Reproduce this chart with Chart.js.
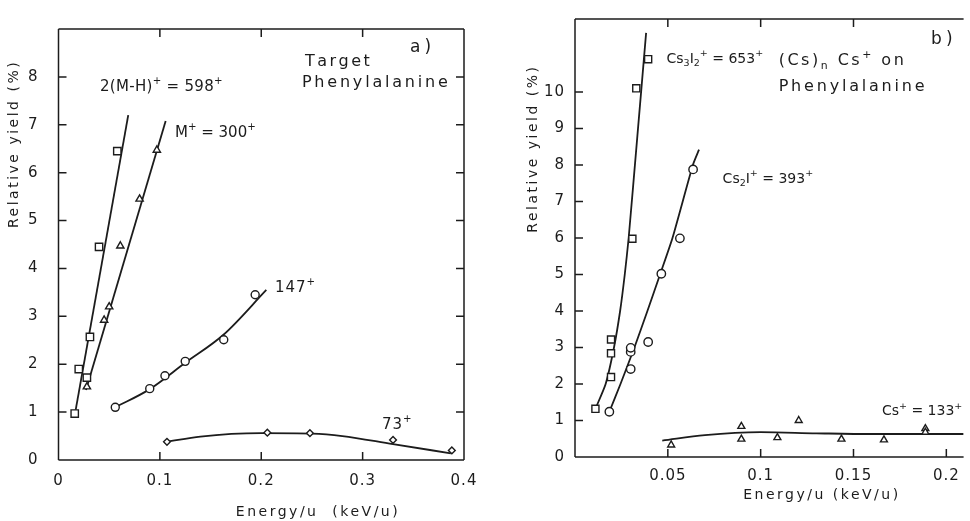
<!DOCTYPE html>
<html>
<head>
<meta charset="utf-8">
<title>Relative yield vs Energy/u - Phenylalanine</title>
<script src="https://cdn.jsdelivr.net/npm/chart.js@4.4.1/dist/chart.umd.min.js"></script>
<style>
  html, body { margin: 0; padding: 0; background: #fff; overflow: hidden; }
  #wrapA { position: absolute; left: 0; top: 0; width: 490px; height: 521px; }
  #wrapB { position: absolute; left: 490px; top: 0; width: 480px; height: 521px; }
</style>
</head>
<body>
<div id="wrapA"><canvas id="chartA"></canvas></div>
<div id="wrapB"><canvas id="chartB"></canvas></div>
<script>
// ---- Panel a) : target Phenylalanine ----
const energy598 = [0.016, 0.020, 0.028, 0.031, 0.040, 0.058];
const yield598 = [0.97, 1.90, 1.72, 2.57, 4.45, 6.45];
const energy300 = [0.028, 0.045, 0.050, 0.061, 0.080, 0.097];
const yield300 = [1.53, 2.92, 3.20, 4.47, 5.45, 6.47];
const energy147 = [0.056, 0.090, 0.105, 0.125, 0.163, 0.194];
const yield147 = [1.10, 1.49, 1.76, 2.06, 2.51, 3.45];
const energy73 = [0.107, 0.206, 0.248, 0.330, 0.388];
const yield73 = [0.38, 0.57, 0.56, 0.42, 0.20];

// hand drawn curves, read along the lines of the figure
const fitEnergy598 = [0.0163, 0.0688];
const fitYield598 = [0.97, 7.2];
const fitEnergy300 = [0.0271, 0.1057];
const fitYield300 = [1.46, 7.08];
const fitEnergy147 = [0.056, 0.090, 0.125, 0.163, 0.205];
const fitYield147 = [1.10, 1.48, 2.03, 2.62, 3.55];
const fitEnergy73 = [0.107, 0.140, 0.200, 0.250, 0.280, 0.330, 0.387];
const fitYield73 = [0.38, 0.49, 0.56, 0.55, 0.50, 0.33, 0.14];

const xTicksA = [0, 0.1, 0.2, 0.3, 0.4];
const yTicksA = [0, 1, 2, 3, 4, 5, 6, 7, 8];

// ---- Panel b) : (Cs)n Cs+ on Phenylalanine ----
const energy653 = [0.011, 0.0194, 0.0194, 0.0194, 0.0309, 0.033, 0.0394];
const yield653 = [1.32, 2.19, 2.84, 3.22, 5.98, 10.1, 10.9];
const energy393 = [0.0185, 0.030, 0.030, 0.030, 0.0394, 0.0465, 0.0565, 0.0636];
const yield393 = [1.24, 2.41, 2.88, 2.99, 3.15, 5.02, 5.99, 7.88];
const energy133 = [0.0518, 0.0896, 0.0896, 0.109, 0.1205, 0.1435, 0.1664, 0.1887, 0.1887];
const yield133 = [0.33, 0.84, 0.49, 0.53, 1.0, 0.49, 0.47, 0.78, 0.68];

const fitEnergy653 = [0.011, 0.0165, 0.021, 0.0243, 0.0268, 0.0289, 0.0336, 0.0383];
const fitYield653 = [1.32, 2.0, 3.0, 4.0, 5.0, 6.0, 8.8, 11.62];
const fitEnergy393 = [0.0185, 0.0245, 0.032, 0.039, 0.0458, 0.0525, 0.0635, 0.0668];
const fitYield393 = [1.24, 2.0, 3.0, 4.0, 5.0, 6.0, 8.0, 8.42];
const fitEnergy133 = [0.047, 0.070, 0.100, 0.130, 0.160, 0.2093];
const fitYield133 = [0.45, 0.60, 0.68, 0.65, 0.63, 0.63];

const xTicksB = [0.05, 0.1, 0.15, 0.2];
const yTicksB = [0, 1, 2, 3, 4, 5, 6, 7, 8, 9, 10];

const FONT = '"DejaVu Sans", sans-serif';
const INK = "#1c1c1c";

document.addEventListener("DOMContentLoaded", function () {
  buildPanelA();
  buildPanelB();
});

// Pair up an x array and a y array into chart points
function toPoints(xs, ys) {
  return xs.map((x, i) => ({ x: x, y: ys[i] }));
}

// Open markers for the measured points
function markerSet(xs, ys, style, radius) {
  return {
    type: "scatter",
    data: toPoints(xs, ys),
    pointStyle: style,
    pointRadius: radius,
    pointBorderWidth: 1.4,
    pointBorderColor: INK,
    pointBackgroundColor: "#fff",
    showLine: false,
    order: 1,
  };
}

// Line drawn through the points: "straight", "smooth" (bezier) or "monotone"
function curveSet(xs, ys, kind) {
  const set = {
    type: "scatter",
    data: toPoints(xs, ys),
    showLine: true,
    borderColor: INK,
    borderWidth: 1.8,
    pointRadius: 0,
    fill: false,
    order: 2,
  };
  if (kind === "straight") {
    set.tension = 0;
  } else if (kind === "smooth") {
    set.tension = 0.2;
    set.cubicInterpolationMode = "default";
  } else {
    set.cubicInterpolationMode = "monotone";
  }
  return set;
}

// Format tick values like 0.05, 0.1 or 0
function formatTick(value) {
  return String(+Number(value).toFixed(2));
}

// Draw a string where ^c is superscript and _c is subscript
function drawRichText(ctx, str, x, y, size) {
  let cx = x;
  for (let i = 0; i < str.length; i++) {
    let ch = str[i];
    let mode = 0;
    if ((ch === "^" || ch === "_") && i + 1 < str.length) {
      mode = ch === "^" ? 1 : -1;
      ch = str[++i];
    }
    const fs = mode ? size * 0.68 : size;
    ctx.font = `${fs}px ${FONT}`;
    const dy = mode === 1 ? -size * 0.4 : mode === -1 ? size * 0.3 : 0;
    ctx.fillText(ch, cx, y + dy);
    cx += ctx.measureText(ch).width;
  }
}

// Frame, inward tick marks, labels and axis titles
function makeFramePlugin(cfg) {
  return {
    id: "frame",
    beforeDraw(chart) {
      chart.ctx.letterSpacing = "1px";
    },
    afterDraw(chart) {
      const ctx = chart.ctx;
      const area = chart.chartArea;
      const xs = chart.scales.x;
      const ys = chart.scales.y;
      const tick = 8;

      ctx.save();
      ctx.strokeStyle = INK;
      ctx.lineWidth = 1.5;
      ctx.beginPath();
      // frame sides
      if (cfg.sides.includes("top")) { ctx.moveTo(area.left, area.top); ctx.lineTo(area.right, area.top); }
      if (cfg.sides.includes("bottom")) { ctx.moveTo(area.left, area.bottom); ctx.lineTo(area.right, area.bottom); }
      if (cfg.sides.includes("left")) { ctx.moveTo(area.left, area.top); ctx.lineTo(area.left, area.bottom); }
      if (cfg.sides.includes("right")) { ctx.moveTo(area.right, area.top); ctx.lineTo(area.right, area.bottom); }
      // tick marks pointing inside
      cfg.bottomMarks.forEach((v) => {
        const px = xs.getPixelForValue(v);
        ctx.moveTo(px, area.bottom); ctx.lineTo(px, area.bottom - tick);
      });
      cfg.topMarks.forEach((v) => {
        const px = xs.getPixelForValue(v);
        ctx.moveTo(px, area.top); ctx.lineTo(px, area.top + tick);
      });
      cfg.leftMarks.forEach((v) => {
        const py = ys.getPixelForValue(v);
        ctx.moveTo(area.left, py); ctx.lineTo(area.left + tick, py);
      });
      cfg.rightMarks.forEach((v) => {
        const py = ys.getPixelForValue(v);
        ctx.moveTo(area.right, py); ctx.lineTo(area.right - tick, py);
      });
      ctx.stroke();

      // text labels
      ctx.fillStyle = INK;
      ctx.textBaseline = "middle";
      ctx.textAlign = "left";
      cfg.labels.forEach((lab) => {
        ctx.letterSpacing = lab.spacing + "px";
        drawRichText(ctx, lab.text, xs.getPixelForValue(lab.x), ys.getPixelForValue(lab.y), lab.size);
      });

      // axis titles
      ctx.font = `14px ${FONT}`;
      ctx.letterSpacing = "2.5px";
      ctx.textAlign = "center";
      ctx.fillText(cfg.xTitle.text, xs.getPixelForValue(cfg.xTitle.at), area.bottom + cfg.xTitle.offset);
      ctx.translate(area.left - cfg.yTitle.offset, ys.getPixelForValue(cfg.yTitle.at));
      ctx.rotate(-Math.PI / 2);
      ctx.fillText(cfg.yTitle.text, 0, 0);
      ctx.restore();
    },
  };
}

// Shared options for one panel
function panelOptions(p) {
  return {
    responsive: true,
    maintainAspectRatio: false,
    animation: false,
    layout: { padding: p.padding },
    plugins: { legend: { display: false }, tooltip: { enabled: false } },
    scales: {
      x: {
        type: "linear",
        min: p.xMin,
        max: p.xMax,
        grid: { display: false, drawTicks: false },
        border: { display: false },
        afterBuildTicks: (s) => { s.ticks = p.xTicks.map((v) => ({ value: v })); },
        afterFit: (s) => { s.height = p.xHeight; },
        ticks: {
          padding: p.xPad,
          color: INK,
          autoSkip: false,
          maxRotation: 0,
          font: { family: FONT, size: 15 },
          callback: (v) => formatTick(v),
        },
      },
      y: {
        type: "linear",
        min: 0,
        max: p.yMax,
        grid: { display: false, drawTicks: false },
        border: { display: false },
        afterBuildTicks: (s) => { s.ticks = p.yTicks.map((v) => ({ value: v })); },
        afterFit: (s) => { s.width = p.yWidth; },
        ticks: {
          padding: p.yPad,
          color: INK,
          font: { family: FONT, size: 15 },
          callback: (v) => formatTick(v),
        },
      },
    },
  };
}

function buildPanelA() {
  const ctx = document.getElementById("chartA");
  new Chart(ctx, {
    type: "scatter",
    data: {
      datasets: [
        curveSet(fitEnergy598, fitYield598, "straight"),
        curveSet(fitEnergy300, fitYield300, "straight"),
        curveSet(fitEnergy147, fitYield147, "monotone"),
        curveSet(fitEnergy73, fitYield73, "monotone"),
        markerSet(energy598, yield598, "rect", 5.2),
        markerSet(energy300, yield300, "triangle", 4.2),
        markerSet(energy147, yield147, "circle", 4),
        markerSet(energy73, yield73, "rectRot", 3.4),
      ],
    },
    options: panelOptions({
      padding: { top: 12, right: 26, left: 0, bottom: 0 },
      xMin: 0, xMax: 0.4, yMax: 9,
      xTicks: xTicksA, yTicks: yTicksA,
      xHeight: 61, yWidth: 58.5, xPad: 12, yPad: 20,
    }),
    plugins: [
      makeFramePlugin({
        sides: ["top", "right", "bottom", "left"],
        bottomMarks: [0.1, 0.2, 0.3],
        topMarks: [0.1, 0.2, 0.3],
        leftMarks: [1, 2, 3, 4, 5, 6, 7, 8],
        rightMarks: [1, 2, 3, 4, 5, 6, 7, 8],
        labels: [
          { text: "a)", x: 0.3467, y: 8.61, size: 17, spacing: 4 },
          { text: "Target", x: 0.2431, y: 8.31, size: 16, spacing: 2.5 },
          { text: "Phenylalanine", x: 0.2401, y: 7.87, size: 16, spacing: 2.8 },
          { text: "2(M-H)^+ = 598^+", x: 0.0409, y: 7.79, size: 15, spacing: 0.3 },
          { text: "M^+ = 300^+", x: 0.1149, y: 6.82, size: 15, spacing: 0 },
          { text: "147^+", x: 0.2135, y: 3.58, size: 15, spacing: 1 },
          { text: "73^+", x: 0.319, y: 0.72, size: 15, spacing: 1 },
        ],
        xTitle: { text: "Energy/u  (keV/u)", at: 0.256, offset: 52 },
        yTitle: { text: "Relative yield (%)", at: 6.6, offset: 44 },
      }),
    ],
  });
}

function buildPanelB() {
  const ctx = document.getElementById("chartB");
  new Chart(ctx, {
    type: "scatter",
    data: {
      datasets: [
        curveSet(fitEnergy653, fitYield653, "smooth"),
        curveSet(fitEnergy393, fitYield393, "smooth"),
        curveSet(fitEnergy133, fitYield133, "monotone"),
        markerSet(energy653, yield653, "rect", 5),
        markerSet(energy393, yield393, "circle", 4.2),
        markerSet(energy133, yield133, "triangle", 4),
      ],
    },
    options: panelOptions({
      padding: { top: 12, right: 0, left: 0, bottom: 0 },
      xMin: 0, xMax: 0.2093, yMax: 12,
      xTicks: xTicksB, yTicks: yTicksB,
      xHeight: 64, yWidth: 85, xPad: 10, yPad: 10,
    }),
    plugins: [
      makeFramePlugin({
        sides: ["top", "bottom", "left"],
        bottomMarks: [0.05, 0.1, 0.15, 0.2],
        topMarks: [0.05, 0.1, 0.15],
        leftMarks: [1, 2, 3, 4, 5, 6, 7, 8, 9, 10],
        rightMarks: [],
        labels: [
          { text: "b)", x: 0.1918, y: 11.43, size: 17, spacing: 4 },
          { text: "Cs_3I_2^+ = 653^+", x: 0.0493, y: 10.9, size: 14, spacing: 0 },
          { text: "(Cs)_n Cs^+ on", x: 0.1097, y: 10.84, size: 16, spacing: 2.5 },
          { text: "Phenylalanine", x: 0.1097, y: 10.14, size: 16, spacing: 2.8 },
          { text: "Cs_2I^+ = 393^+", x: 0.0795, y: 7.62, size: 14, spacing: 0 },
          { text: "Cs^+ = 133^+", x: 0.1653, y: 1.24, size: 14, spacing: 0 },
        ],
        xTitle: { text: "Energy/u (keV/u)", at: 0.133, offset: 38 },
        yTitle: { text: "Relative yield (%)", at: 8.45, offset: 42 },
      }),
    ],
  });
}
</script>
</body>
</html>
